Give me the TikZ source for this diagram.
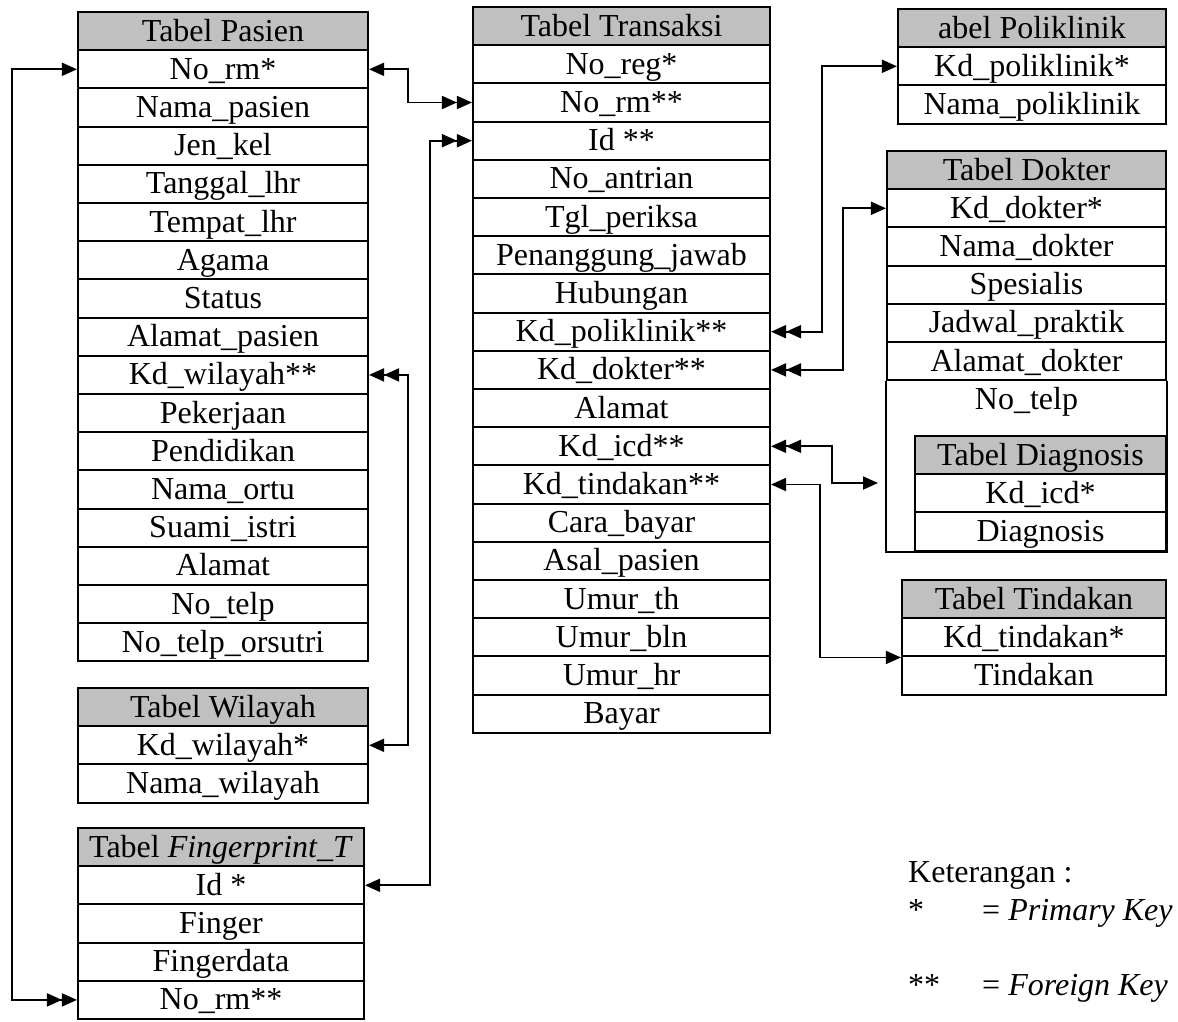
\documentclass[tikz,border=0pt]{standalone}
\usepackage{fontspec}
\setmainfont{Liberation Serif}
\usetikzlibrary{arrows.meta}
\definecolor{hdrgray}{RGB}{192,192,192}
\tikzset{
  >={Triangle[length=15pt,width=13pt]},
  tcell/.style={draw, line width=2.1pt, inner sep=0pt, minimum height=38.2pt,
    text height=22pt, text depth=2pt, font=\fontsize{32}{36}\selectfont},
  thead/.style={tcell, fill=hdrgray},
  plain/.style={inner sep=0pt, font=\fontsize{32}{36}\selectfont},
  link/.style={line width=1.8pt},
  frame/.style={line width=2.1pt}
}
\begin{document}
\begin{tikzpicture}[x=1pt,y=-1pt]
\useasboundingbox (0,0) rectangle (1178,1021);

% Tabel Pasien
\node[thead, minimum width=290pt] (pas0) at (223,31.1) {Tabel Pasien};
\foreach \t [count=\i] in {No\_rm*,Nama\_pasien,Jen\_kel,Tanggal\_lhr,Tempat\_lhr,Agama,Status,Alamat\_pasien,Kd\_wilayah**,Pekerjaan,Pendidikan,Nama\_ortu,Suami\_istri,Alamat,No\_telp,No\_telp\_orsutri}
  \node[tcell, minimum width=290pt] (pas\i) at (223,{31.1+38.2*\i}) {\t};

% Tabel Wilayah
\node[thead, minimum width=290pt] (wil0) at (223,707.1) {Tabel Wilayah};
\node[tcell, minimum width=290pt] (wil1) at (223,745.3) {Kd\_wilayah*};
\node[tcell, minimum width=290pt] (wil2) at (223,783.5) {Nama\_wilayah};

% Tabel Fingerprint_T
\node[thead, minimum width=286pt] (fp0) at (221,847.1) {Tabel \textit{Fingerprint\_T}};
\foreach \t [count=\i] in {Id *,Finger,Fingerdata,No\_rm**}
  \node[tcell, minimum width=286pt] (fp\i) at (221,{847.1+38.2*\i}) {\t};

% Tabel Transaksi
\node[thead, minimum width=297pt] (tr0) at (621.5,26.1) {Tabel Transaksi};
\foreach \t [count=\i] in {No\_reg*,No\_rm**,Id **,No\_antrian,Tgl\_periksa,Penanggung\_jawab,Hubungan,Kd\_poliklinik**,Kd\_dokter**,Alamat,Kd\_icd**,Kd\_tindakan**,Cara\_bayar,Asal\_pasien,Umur\_th,Umur\_bln,Umur\_hr,Bayar}
  \node[tcell, minimum width=297pt] (tr\i) at (621.5,{26.1+38.2*\i}) {\t};

% Tabel Poliklinik
\node[thead, minimum width=268pt] (pol0) at (1032,28.1) {abel Poliklinik};
\node[tcell, minimum width=268pt] (pol1) at (1032,66.3) {Kd\_poliklinik*};
\node[tcell, minimum width=268pt] (pol2) at (1032,104.5) {Nama\_poliklinik};

% Tabel Dokter
\node[thead, minimum width=279pt] (dok0) at (1026.5,170.1) {Tabel Dokter};
\foreach \t [count=\i] in {Kd\_dokter*,Nama\_dokter,Spesialis,Jadwal\_praktik,Alamat\_dokter}
  \node[tcell, minimum width=279pt] (dok\i) at (1026.5,{170.1+38.2*\i}) {\t};
\node[tcell, draw=none, minimum width=279pt] (dok6) at (1026.5,399.3) {No\_telp};

% Tabel Diagnosis (inside the Dokter frame)
\node[thead, minimum width=251pt] (dia0) at (1040.5,455.1) {Tabel Diagnosis};
\node[tcell, minimum width=251pt] (dia1) at (1040.5,493.3) {Kd\_icd*};
\node[tcell, minimum width=251pt] (dia2) at (1040.5,531.5) {Diagnosis};
\draw[frame] (dok5.south west) |- (dia2.south east) |- (dok5.south east);

% Tabel Tindakan
\node[thead, minimum width=264pt] (tin0) at (1034,599.1) {Tabel Tindakan};
\node[tcell, minimum width=264pt] (tin1) at (1034,637.3) {Kd\_tindakan*};
\node[tcell, minimum width=264pt] (tin2) at (1034,675.5) {Tindakan};

% Legend
\node[plain, anchor=base west] (leg0) at (908,882) {Keterangan :};
\node[plain, anchor=base west] (leg1a) at (908,920) {*};
\node[plain, anchor=base west] (leg1b) at (982,920) {= \textit{Primary Key}};
\node[plain, anchor=base west] (leg2a) at (908,995) {**};
\node[plain, anchor=base west] (leg2b) at (982,995) {= \textit{Foreign Key}};

% Routing columns for the relations
\coordinate (xL) at (12,0);
\coordinate (xA) at (408,0);
\coordinate (xB) at (430,0);
\coordinate (xF) at (820,0);
\coordinate (xC) at (822,0);
\coordinate (xE) at (832,0);
\coordinate (xD) at (843,0);
\coordinate (icdEnd) at (878,483);

% Relations
\draw[link,<<->] (tr2.west) -- (tr2.west -| xA) |- (pas1.east);
\draw[link,<->>] (pas1.west) -- (pas1.west -| xL) |- (fp4.west);
\draw[link,<<->] (tr3.west) -- (tr3.west -| xB) |- (fp1.east);
\draw[link,<<->] (pas9.east) -- (pas9.east -| xA) |- (wil1.east);
\draw[link,<<->] (tr8.east) -- (tr8.east -| xC) |- (pol1.west);
\draw[link,<<->] (tr9.east) -- (tr9.east -| xD) |- (dok1.west);
\draw[link,<<->] (tr11.east) -- (tr11.east -| xE) |- (icdEnd);
\draw[link,<->] (tr12.east) -- (tr12.east -| xF) |- (tin1.south west);
\end{tikzpicture}
\end{document}
